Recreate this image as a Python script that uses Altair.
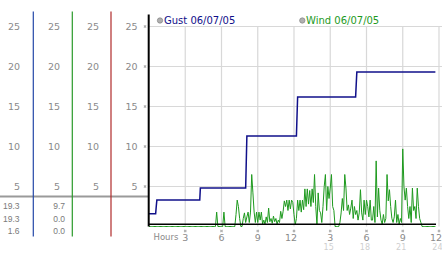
import altair as alt
import pandas as pd

# ---------------- data ----------------
gust_hours = [0, 0.55, 0.6, 0.65, 4.2, 4.25, 8.0, 8.05, 8.1, 12.2, 12.25, 12.3,
              17.1, 17.15, 17.2, 23.7]
gust_values = [1.6, 1.6, 2.5, 3.3, 3.3, 4.8, 4.8, 8.1, 11.3, 11.3, 13.8, 16.2,
               16.2, 17.8, 19.3, 19.3]

wind_values = (
    [0, 0, 0, 0, 0, 0, 0, 0, 0, 0] +                      # 0h
    [0, 0, 0, 0, 0, 0, 0, 0, 0, 0] +                      # 1h
    [0, 0, 0, 0, 0, 0, 0, 0, 0, 0] +                      # 2h
    [0, 0, 0, 0, 0, 0, 0, 0, 0, 0] +                      # 3h
    [0, 0, 0, 0, 0, 0, 0, 0, 0, 0] +                      # 4h
    [0, 0, 0, 0, 0, 0, 1.8, 0, 0, 0] +                    # 5h
    [0, 0, 1.8, 0, 0, 0, 0, 0, 0, 0] +                    # 6h
    [0, 0, 1.5, 3.3, 2.5, 1.0, 0, 0, 1.0, 1.7] +          # 7h
    [0.5, 1.2, 1.8, 0.5, 1.8, 6.5, 4.2, 1.8, 0.5, 1.8] +  # 8h
    [0.5, 1.8, 0.8, 1.8, 0.3, 0.8, 0.3, 1.2, 0.5, 2.3] +  # 9h
    [0.6, 1.0, 0.4, 1.3, 0.6, 1.0, 0.3, 0.8, 0.5, 1.9] +  # 10h
    [1.0, 1.9, 3.2, 2.5, 3.3, 2.0, 3.3, 2.2, 3.3, 3.0] +  # 11h
    [1.5, 0.2, 1.0, 3.3, 2.0, 3.3, 1.8, 3.3, 2.1, 4.7] +  # 12h
    [2.5, 4.7, 2.8, 4.5, 2.5, 4.7, 3.0, 6.5, 2.5, 0.2] +  # 13h
    [4.2, 2.0, 1.7, 0.5, 2.5, 5.0, 6.5, 2.0, 5.0, 3.5] +  # 14h
    [4.8, 6.5, 2.5, 2.0, 0, 0, 0, 0, 0.5, 1.7] +          # 15h
    [3.5, 2.0, 6.5, 4.8, 2.0, 2.7, 1.5, 2.3, 3.3, 1.0] +  # 16h
    [2.5, 1.5, 2.0, 0.8, 1.7, 4.6, 1.7, 0.8, 3.3, 1.5] +  # 17h
    [3.3, 2.5, 1.2, 3.3, 0.8, 0.8, 2.5, 0.5, 8.2, 1.2] +  # 18h
    [4.8, 2.0, 0.8, 0.3, 1.5, 0.5, 1.0, 6.5, 3.2, 4.6] +  # 19h
    [2.5, 1.0, 0.5, 1.2, 3.3, 0.5, 1.5, 0.3, 1.0, 0.5] +  # 20h
    [9.7, 5.0, 3.3, 4.8, 2.5, 1.0, 2.5, 0.5, 4.8, 2.0] +  # 21h
    [2.5, 1.0, 4.8, 2.5, 1.0, 0.5, 0, 0, 0, 0] +          # 22h
    [0, 0, 0, 0, 0, 0, 0, 0]                              # 23h
)
WIND_STEP = 0.1
wind_hours = [round(i * WIND_STEP, 1) for i in range(len(wind_values))]

y_ticks = [5, 10, 15, 20, 25]
x_ticks = [3, 6, 9, 12, 15, 18, 21, 24]
x_labels_top = ["3", "6", "9", "12", "3", "6", "9", "12"]
x_labels_bottom = ["", "", "", "", "15", "18", "21", "24"]
gust_stats = ["19.3", "19.3", "1.6"]
wind_stats = ["9.7", "0.0", "0.0"]
legend_labels = ["Gust 06/07/05", "Wind 06/07/05"]
marker_level = 3.75

# ---------------- chart ----------------
W, H = 290, 200
FONT = "DejaVu Sans"
GUST_C = "#10108a"
WIND_C = "#1e9a1e"
xs = alt.Scale(domain=[0, 24])
ys = alt.Scale(domain=[0, 25])

gust_df = pd.DataFrame({"h": gust_hours, "v": gust_values})
wind_df = pd.DataFrame({"h": wind_hours, "v": wind_values})
yt_df = pd.DataFrame({"v": y_ticks})
xt_df = pd.DataFrame({"h": x_ticks, "top": x_labels_top, "bot": x_labels_bottom})
stats_df = pd.DataFrame({"row": [0, 1, 2], "g": gust_stats, "w": wind_stats})
lvl_df = pd.DataFrame({"v": [marker_level]})

Y = lambda: alt.Y("v:Q", scale=ys, axis=None)
X = lambda: alt.X("h:Q", scale=xs, axis=None)
ROW = lambda: alt.Y("row:Q", scale=alt.Scale(domain=[0, 2], range=[179.8, 204.8]), axis=None)

hgrid = alt.Chart(yt_df).mark_rule(color="#d8d8d8", strokeWidth=1.2).encode(
    y=Y(), x=alt.value(0), x2=alt.value(293))
vgrid = alt.Chart(xt_df).mark_rule(color="#d8d8d8", strokeWidth=1.2).encode(
    x=X(), y=alt.value(0), y2=alt.value(H))

level = alt.Chart(lvl_df).mark_rule(color="#9a9a9a", strokeWidth=2).encode(
    y=Y(), x=alt.value(-149), x2=alt.value(0))

def vline(px, color):
    return alt.Chart(lvl_df).mark_rule(color=color, strokeWidth=1.2).encode(
        x=alt.value(px), y=alt.value(-15), y2=alt.value(210))

blue_l = vline(-115.7, "#2448a8")
green_l = vline(-76.7, "#2a9a2a")
red_l = vline(-38, "#b02a2a")

wind = alt.Chart(wind_df).mark_line(color=WIND_C, strokeWidth=1).encode(
    x=X(), y=Y())
gust = alt.Chart(gust_df).mark_line(color=GUST_C, strokeWidth=1.5).encode(
    x=X(), y=Y())

axis_v = alt.Chart(lvl_df).mark_rule(color="black", strokeWidth=2).encode(
    x=alt.value(-0.3), y=alt.value(-12), y2=alt.value(H))
axis_h = alt.Chart(lvl_df).mark_rule(color="black", strokeWidth=1.6).encode(
    y=alt.value(H - 2.3), x=alt.value(0), x2=alt.value(287))

def ylabels(px):
    return alt.Chart(yt_df).mark_text(
        align="right", baseline="middle", font=FONT, fontSize=9.5, color="#8a8a8a"
    ).encode(y=Y(), x=alt.value(px), text=alt.Text("v:Q"))

lab1 = ylabels(-129)
lab2 = ylabels(-89)
lab3 = ylabels(-50)
lab4 = ylabels(-11.5)
yglyph = alt.Chart(yt_df).mark_point(
    shape="cross", angle=45, size=9, filled=True, color="#b0b0b0", opacity=1
).encode(y=Y(), x=alt.value(-4))

gstat = alt.Chart(stats_df).mark_text(
    align="right", baseline="middle", font="Liberation Sans", fontSize=8.5, color="#7a7a7a"
).encode(y=ROW(), x=alt.value(-129.5), text="g:N")
wstat = alt.Chart(stats_df).mark_text(
    align="right", baseline="middle", font="Liberation Sans", fontSize=8.5, color="#7a7a7a"
).encode(y=ROW(), x=alt.value(-84), text="w:N")

xtop = alt.Chart(xt_df).mark_text(
    align="right", dx=3, baseline="middle", font=FONT, fontSize=9.5, color="#8a8a8a"
).encode(x=X(), y=alt.value(211), text="top:N")
xbot = alt.Chart(xt_df).mark_text(
    align="right", dx=3.5, baseline="middle", font=FONT, fontSize=8, color="#cfcfcf"
).encode(x=X(), y=alt.value(221.5), text="bot:N")
xglyph = alt.Chart(xt_df).mark_point(
    shape="cross", angle=45, size=9, filled=True, color="#b0b0b0", opacity=1
).encode(x=X(), y=alt.value(204.5))
hours_t = alt.Chart(lvl_df).mark_text(
    text="Hours", align="left", baseline="middle", font=FONT, fontSize=8.5, color="#8a8a8a"
).encode(x=alt.value(4.5), y=alt.value(210.5))

leg_df = pd.DataFrame({"lab": legend_labels})
leg1_dot = alt.Chart(leg_df.iloc[[0]]).mark_point(
    filled=True, fill="#b0b0b0", stroke="#8a8a8a", strokeWidth=0.8, size=28, opacity=1
).encode(x=alt.value(11), y=alt.value(-6))
leg2_dot = alt.Chart(leg_df.iloc[[1]]).mark_point(
    filled=True, fill="#b0b0b0", stroke="#8a8a8a", strokeWidth=0.8, size=28, opacity=1
).encode(x=alt.value(153.3), y=alt.value(-6))
leg1_t = alt.Chart(leg_df.iloc[[0]]).mark_text(
    align="left", baseline="middle", font=FONT, fontSize=10, color=GUST_C
).encode(x=alt.value(15), y=alt.value(-6), text="lab:N")
leg2_t = alt.Chart(leg_df.iloc[[1]]).mark_text(
    align="left", baseline="middle", font=FONT, fontSize=10, color=WIND_C
).encode(x=alt.value(157), y=alt.value(-6), text="lab:N")

chart = alt.layer(
    hgrid, vgrid, level, blue_l, green_l, red_l, wind, gust, axis_v, axis_h,
    lab1, lab2, lab3, lab4, yglyph, gstat, wstat, xtop, xbot, xglyph, hours_t,
    leg1_dot, leg2_dot, leg1_t, leg2_t
).properties(
    width=W, height=H,
    padding={"left": 149, "top": 26.5, "right": 3, "bottom": 26.5},
    autosize=alt.AutoSizeParams(type="none"),
    background="white",
).configure_view(stroke=None).resolve_scale(y="independent")

chart.save("out.html", embed_options={"renderer": "svg", "actions": False})
